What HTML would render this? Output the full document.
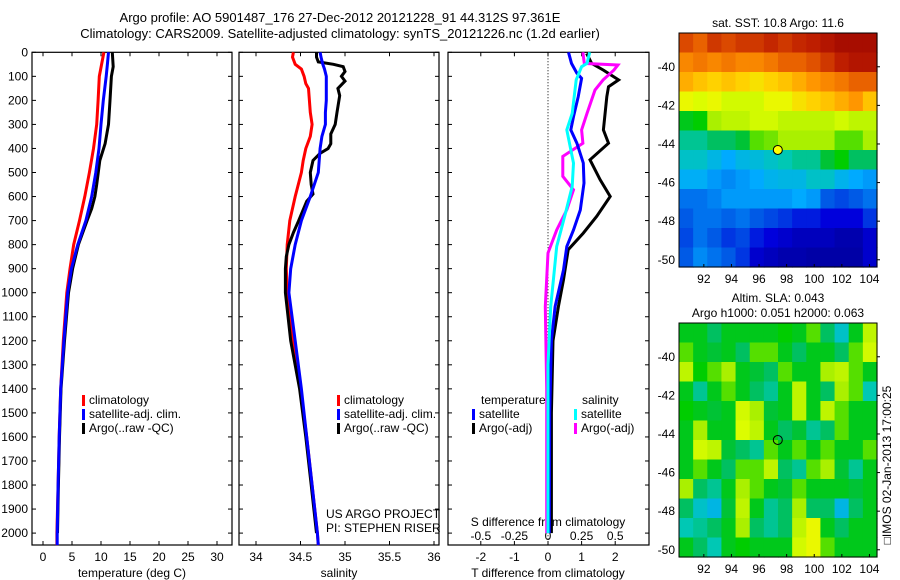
<!DOCTYPE html>
<html><head><meta charset="utf-8">
<style>
html,body{margin:0;padding:0;background:#fff;}
svg{display:block;font-family:"Liberation Sans",sans-serif;}
text{fill:#000;}
</style></head>
<body>
<svg id="fig" width="900" height="580" viewBox="0 0 900 580" xmlns="http://www.w3.org/2000/svg">
<rect width="900" height="580" fill="#fff"/>
<text x="340" y="22" font-size="13" text-anchor="middle">Argo profile: AO 5901487_176 27-Dec-2012 20121228_91 44.312S 97.361E</text>
<text x="340" y="38" font-size="13" text-anchor="middle">Climatology: CARS2009. Satellite-adjusted climatology: synTS_20121226.nc (1.2d earlier)</text>
<g id="g1"></g>
<g id="g2"></g>
<g id="g3"></g>
<g id="m1"></g>
<g id="m2"></g>
<text transform="translate(891,465) rotate(-90)" font-size="12" text-anchor="middle">□IMOS 02-Jan-2013 17:00:25</text>
</svg>
<script>
// ---- data ----
const tempDepth = [0,50,100,200,300,400,500,600,700,800,900,1000,1200,1400,1600,1800,2000,2050];
const tempClim  = [10.5,10.1,9.7,9.5,9.25,8.7,8.0,7.2,6.3,5.3,4.65,4.1,3.5,3.05,2.8,2.6,2.4,2.4];
const tempSat   = [11.3,11.1,10.9,10.4,10.0,9.65,9.1,8.4,7.4,6.0,4.9,4.25,3.6,3.05,2.8,2.6,2.45,2.45];
const argoDepth = [0,60,100,200,300,380,450,550,600,650,700,800,900,1000,1200,1400,1600,1800,2000];
const argoTemp  = [11.95,12.1,11.8,11.55,11.3,10.7,9.8,9.25,8.95,8.4,7.6,6.1,5.1,4.4,3.7,3.1,2.85,2.65,2.5];
const salDepth  = [0,20,50,70,100,130,150,200,250,300,350,400,450,500,600,700,800,900,1000,1200,1400,1600,1800,2000,2050];
const salClim   = [34.42,34.41,34.44,34.51,34.54,34.56,34.59,34.6,34.61,34.63,34.61,34.56,34.53,34.51,34.44,34.38,34.35,34.34,34.35,34.41,34.5,34.57,34.63,34.69,34.70];
const salSat    = [34.72,34.73,34.75,34.77,34.79,34.79,34.79,34.79,34.78,34.78,34.74,34.72,34.71,34.7,34.61,34.51,34.44,34.39,34.37,34.44,34.51,34.57,34.63,34.69,34.70];
const argoSalDepth = [0,20,40,50,60,80,100,120,150,180,250,300,340,380,400,420,450,500,550,590,620,700,750,800,850,900,1000,1200,1400,1600,1800,2000];
const argoSal   = [34.68,34.68,34.7,34.87,34.98,35.0,34.96,35.0,34.92,34.94,34.91,34.89,34.84,34.84,34.81,34.72,34.64,34.61,34.62,34.64,34.57,34.48,34.42,34.37,34.34,34.33,34.33,34.39,34.49,34.56,34.62,34.68];
const dSatDepth = [0,46,87,108,185,268,323,378,461,544,656,739,808,905,1058,1200,1500,2000];
const dTSat     = [0.61,0.7,0.86,1.0,0.9,0.76,0.68,0.86,1.05,1.07,0.96,0.76,0.56,0.46,0.21,0.1,0.05,0.04];
const dArgoDepth= [5,46,74,115,143,185,323,378,447,530,600,682,752,821,946,1058,1200,1500,2000];
const dTArgo    = [1.15,1.3,1.65,2.1,1.8,1.75,1.65,1.8,1.25,1.55,1.85,1.45,1.05,0.6,0.46,0.31,0.15,0.1,0.1];
const dSSatDepth= [0,46,60,115,254,323,461,558,669,808,946,1058,1300,2000];
const dSSat     = [0.31,0.29,0.25,0.21,0.18,0.14,0.19,0.18,0.13,0.065,0.04,0.02,0.0,0.0];
const dSArgoDepth=[0,46,53,74,115,157,254,323,378,433,516,572,655,739,835,1058,1400,2000];
const dSArgo    = [0.26,0.27,0.52,0.49,0.41,0.35,0.29,0.25,0.26,0.11,0.11,0.19,0.14,0.065,0.0,-0.02,-0.01,-0.01];
const depthTicks = [0,100,200,300,400,500,600,700,800,900,1000,1100,1200,1300,1400,1500,1600,1700,1800,1900,2000];
const tTicks = [0,5,10,15,20,25,30];
const sTicks = [34,34.5,35,35.5,36];
const dTTicks = [-2,-1,0,1,2];
const dSTicks = [-0.5,-0.25,0,0.25,0.5];
const dSTickLabels = ["-0.5","-0.25","0","0.25","0.5"];
const mapLonTicks = [92,94,96,98,100,102,104];
const mapLatTicks1 = [-40,-42,-44,-46,-48,-50];
const argoLon = 97.36, argoLat = -44.31;
const sstGrid = [
[0.88,0.85,0.9,0.88,0.9,0.9,0.92,0.9,0.92,0.93,0.95,0.97,0.97,0.97],
[0.8,0.82,0.8,0.82,0.8,0.8,0.82,0.85,0.85,0.87,0.9,0.93,0.95,0.95],
[0.75,0.72,0.7,0.72,0.7,0.68,0.7,0.72,0.75,0.78,0.8,0.82,0.85,0.85],
[0.65,0.63,0.65,0.62,0.62,0.62,0.65,0.65,0.68,0.7,0.72,0.75,0.78,0.72],
[0.5,0.52,0.58,0.6,0.6,0.62,0.62,0.6,0.6,0.6,0.6,0.62,0.6,0.6],
[0.42,0.42,0.45,0.45,0.48,0.55,0.56,0.58,0.58,0.58,0.58,0.55,0.55,0.58],
[0.38,0.38,0.35,0.32,0.35,0.36,0.38,0.4,0.42,0.42,0.48,0.52,0.45,0.45],
[0.33,0.33,0.3,0.28,0.3,0.32,0.34,0.35,0.35,0.38,0.38,0.34,0.32,0.3],
[0.25,0.25,0.27,0.3,0.3,0.3,0.3,0.3,0.32,0.3,0.22,0.2,0.22,0.25],
[0.22,0.25,0.25,0.23,0.25,0.22,0.2,0.18,0.15,0.15,0.12,0.12,0.12,0.18],
[0.2,0.25,0.22,0.18,0.2,0.15,0.12,0.1,0.08,0.08,0.08,0.06,0.06,0.1],
[0.22,0.28,0.25,0.22,0.18,0.1,0.08,0.06,0.06,0.05,0.05,0.05,0.05,0.1]];
const slaGrid = [
[0.5,0.5,0.45,0.5,0.5,0.5,0.5,0.52,0.5,0.55,0.45,0.38,0.5,0.6],
[0.55,0.5,0.48,0.5,0.45,0.55,0.55,0.5,0.45,0.5,0.5,0.45,0.55,0.62],
[0.6,0.52,0.55,0.58,0.5,0.48,0.45,0.55,0.5,0.5,0.58,0.6,0.55,0.5],
[0.5,0.42,0.5,0.55,0.5,0.45,0.42,0.5,0.6,0.5,0.45,0.58,0.55,0.4],
[0.52,0.5,0.48,0.5,0.62,0.58,0.48,0.5,0.6,0.5,0.6,0.55,0.5,0.5],
[0.5,0.58,0.5,0.5,0.63,0.6,0.5,0.45,0.48,0.42,0.45,0.55,0.5,0.5],
[0.5,0.62,0.6,0.48,0.45,0.42,0.55,0.5,0.55,0.5,0.55,0.5,0.5,0.55],
[0.5,0.55,0.5,0.45,0.55,0.55,0.6,0.45,0.42,0.55,0.58,0.48,0.42,0.5],
[0.58,0.45,0.42,0.5,0.58,0.55,0.5,0.48,0.55,0.5,0.5,0.5,0.48,0.5],
[0.45,0.38,0.35,0.48,0.6,0.5,0.42,0.45,0.58,0.45,0.45,0.35,0.45,0.5],
[0.4,0.42,0.45,0.5,0.58,0.45,0.42,0.45,0.6,0.65,0.5,0.45,0.5,0.5],
[0.5,0.45,0.4,0.5,0.52,0.5,0.5,0.5,0.62,0.65,0.55,0.5,0.5,0.5]];

// ---- helpers ----
const NS="http://www.w3.org/2000/svg";
function mk(parent,tag,attrs,txt){const e=document.createElementNS(NS,tag);for(const k in attrs)e.setAttribute(k,attrs[k]);if(txt!==undefined)e.textContent=txt;parent.appendChild(e);return e;}
const Y0=52.3, PXD=0.2404, YB=545;
const yD = d => Y0 + d*PXD;
const xT = v => 43 + v*5.8;
const xS = v => 256 + (v-34)*89;
const xdT = v => 548 + v*33.6;
const xdS = v => 548 + v*134.4;

function line(g,xs,ds,fx,color,name){
  const pts=xs.map((v,i)=>fx(v).toFixed(1)+","+yD(ds[i]).toFixed(1)).join(" ");
  const p=mk(g,"polyline",{points:pts,fill:"none",stroke:color,"stroke-width":3});
  
  
}
function panel(g,x0,x1,name){
  const r=mk(g,"rect",{x:x0,y:Y0,width:x1-x0,height:YB-Y0,fill:"none",stroke:"#000","stroke-width":1.2});
  
  
  depthTicks.forEach(d=>{mk(g,"line",{x1:x0,x2:x0+4,y1:yD(d),y2:yD(d),stroke:"#000"});mk(g,"line",{x1:x1,x2:x1-4,y1:yD(d),y2:yD(d),stroke:"#000"});});
}
function xticks(g,ticks,fx,labels,ly){
  ticks.forEach((t,i)=>{const x=fx(t);mk(g,"line",{x1:x,x2:x,y1:Y0,y2:Y0+4,stroke:"#000"});mk(g,"line",{x1:x,x2:x,y1:YB,y2:YB-4,stroke:"#000"});
    const tx=mk(g,"text",{x:x,y:ly,"font-size":12,"text-anchor":"middle"},labels?labels[i]:String(t));
    
    });
}
function legend(g,x,y,items){
  items.forEach((it,i)=>{const yy=y+i*14;
    const m=mk(g,"rect",{x:x,y:yy-9,width:3,height:11,fill:it[1]});
    
    
    const t=mk(g,"text",{x:x+7,y:yy,"font-size":12},it[0]);
    
    });
}

// ---- panel 1 ----
const g1=document.getElementById("g1");
panel(g1,32,232,"temperature-axes");
depthTicks.forEach(d=>{const t=mk(g1,"text",{x:28,y:yD(d)+4,"font-size":12,"text-anchor":"end"},String(d));
  
  });
xticks(g1,tTicks,xT,null,561);
mk(g1,"text",{x:132,y:577,"font-size":12,"text-anchor":"middle",},"temperature (deg C)");
line(g1,tempClim,tempDepth,xT,"#ff0000","temp-climatology-line");
line(g1,argoTemp,argoDepth,xT,"#000","temp-argo-line");
line(g1,tempSat,tempDepth,xT,"#0000ff","temp-satellite-line");
legend(g1,82,404,[["climatology","#ff0000"],["satellite-adj. clim.","#0000ff"],["Argo(..raw -QC)","#000"]]);

// ---- panel 2 ----
const g2=document.getElementById("g2");
panel(g2,239,439,"salinity-axes");
xticks(g2,sTicks,xS,null,561);
mk(g2,"text",{x:339,y:577,"font-size":12,"text-anchor":"middle",},"salinity");
line(g2,salClim,salDepth,xS,"#ff0000","sal-climatology-line");
line(g2,argoSal,argoSalDepth,xS,"#000","sal-argo-line");
line(g2,salSat,salDepth,xS,"#0000ff","sal-satellite-line");
legend(g2,337,404,[["climatology","#ff0000"],["satellite-adj. clim.","#0000ff"],["Argo(..raw -QC)","#000"]]);
mk(g2,"text",{x:326,y:518,"font-size":12,},"US ARGO PROJECT");
mk(g2,"text",{x:326,y:532,"font-size":12,},"PI: STEPHEN RISER");

// ---- panel 3 ----
const g3=document.getElementById("g3");
panel(g3,448,649,"difference-axes");
mk(g3,"line",{x1:548,x2:548,y1:Y0,y2:YB,stroke:"#000","stroke-dasharray":"1,2",});
dTTicks.forEach(t=>{const x=xdT(t);mk(g3,"line",{x1:x,x2:x,y1:Y0,y2:Y0+4,stroke:"#000"});mk(g3,"line",{x1:x,x2:x,y1:YB,y2:YB-4,stroke:"#000"});
  const tx=mk(g3,"text",{x:x,y:561,"font-size":12,"text-anchor":"middle"},String(t));
  
  });
dSTicks.forEach((t,i)=>{const tx=mk(g3,"text",{x:xdS(t),y:540,"font-size":12,"text-anchor":"middle"},dSTickLabels[i]);
  
  });
mk(g3,"text",{x:548,y:526,"font-size":12,"text-anchor":"middle",},"S difference from climatology");
mk(g3,"text",{x:548,y:577,"font-size":12,"text-anchor":"middle",},"T difference from climatology");
line(g3,dTArgo,dArgoDepth,xdT,"#000","dT-argo-line");
line(g3,dSArgo,dSArgoDepth,xdS,"#ff00ff","dS-argo-line");
line(g3,dTSat,dSatDepth,xdT,"#0000ff","dT-satellite-line");
line(g3,dSSat,dSSatDepth,xdS,"#00ffff","dS-satellite-line");
mk(g3,"text",{x:481,y:404,"font-size":12,},"temperature");
mk(g3,"text",{x:582,y:404,"font-size":12,},"salinity");
legend(g3,472,418,[["satellite","#0000ff"],["Argo(-adj)","#000"]]);
legend(g3,574,418,[["satellite","#00ffff"],["Argo(-adj)","#ff00ff"]]);

// ---- maps ----
const cmapStops=[[0,[0,0,128]],[0.12,[0,0,220]],[0.22,[0,90,230]],[0.32,[0,170,255]],[0.4,[0,200,180]],[0.46,[0,190,80]],[0.52,[0,205,0]],[0.58,[170,240,0]],[0.64,[230,255,0]],[0.7,[255,210,0]],[0.78,[255,150,0]],[0.86,[230,90,0]],[0.93,[190,30,0]],[1,[150,0,0]]];
function jet(v){
  v=Math.max(0,Math.min(1,v));
  for(let i=1;i<cmapStops.length;i++){
    if(v<=cmapStops[i][0]){const a=cmapStops[i-1],b=cmapStops[i];const f=(v-a[0])/(b[0]-a[0]);
      return "rgb("+a[1].map((c,k)=>Math.round(c+(b[1][k]-c)*f)).join(",")+")";}
  }
  return "rgb(150,0,0)";
}
function drawMap(id,top,grid,fillCircle){
  const g=document.getElementById(id);
  const L=679,R=877,B=top+234;
  const lonX=lon=>L+(lon-90.2)*13.8;
  const latY=lat=>top+(-38.25-lat)*19.3;
  const rows=grid.length, cols=grid[0].length, cw=(R-L)/cols, ch=(B-top)/rows;
  grid.forEach((row,i)=>row.forEach((v,j)=>{
    const r=mk(g,"rect",{x:(L+j*cw).toFixed(2),y:(top+i*ch).toFixed(2),width:(cw+0.6).toFixed(2),height:(ch+0.6).toFixed(2),fill:jet(v)});
    
    
  }));
  const fr=mk(g,"rect",{x:L,y:top,width:R-L,height:B-top,fill:"none",stroke:"#000"});
  
  
  mapLonTicks.forEach(t=>{const x=lonX(t);mk(g,"line",{x1:x,x2:x,y1:B,y2:B-3,stroke:"#000"});
    const tx=mk(g,"text",{x:x,y:B+16,"font-size":12,"text-anchor":"middle"},String(t));
    
    });
  mapLatTicks1.forEach(t=>{const y=latY(t);mk(g,"line",{x1:R,x2:R+3,y1:y,y2:y,stroke:"#000"});
    const tx=mk(g,"text",{x:675,y:y+4,"font-size":12,"text-anchor":"end"},String(t));
    
    });
  const c=mk(g,"circle",{cx:lonX(argoLon),cy:latY(argoLat),r:4.5,fill:fillCircle?"#ffff00":"none",stroke:"#000","stroke-width":1});
  
  
}
drawMap("m1",33,sstGrid,true);
drawMap("m2",323,slaGrid,false);
const m1=document.getElementById("m1"), m2=document.getElementById("m2");
mk(m1,"text",{x:778,y:27,"font-size":12,"text-anchor":"middle",},"sat. SST: 10.8 Argo: 11.6");
mk(m2,"text",{x:778,y:302,"font-size":12,"text-anchor":"middle",},"Altim. SLA: 0.043");
mk(m2,"text",{x:778,y:317,"font-size":12,"text-anchor":"middle",},"Argo h1000: 0.051 h2000: 0.063");
</script>
</body></html>
